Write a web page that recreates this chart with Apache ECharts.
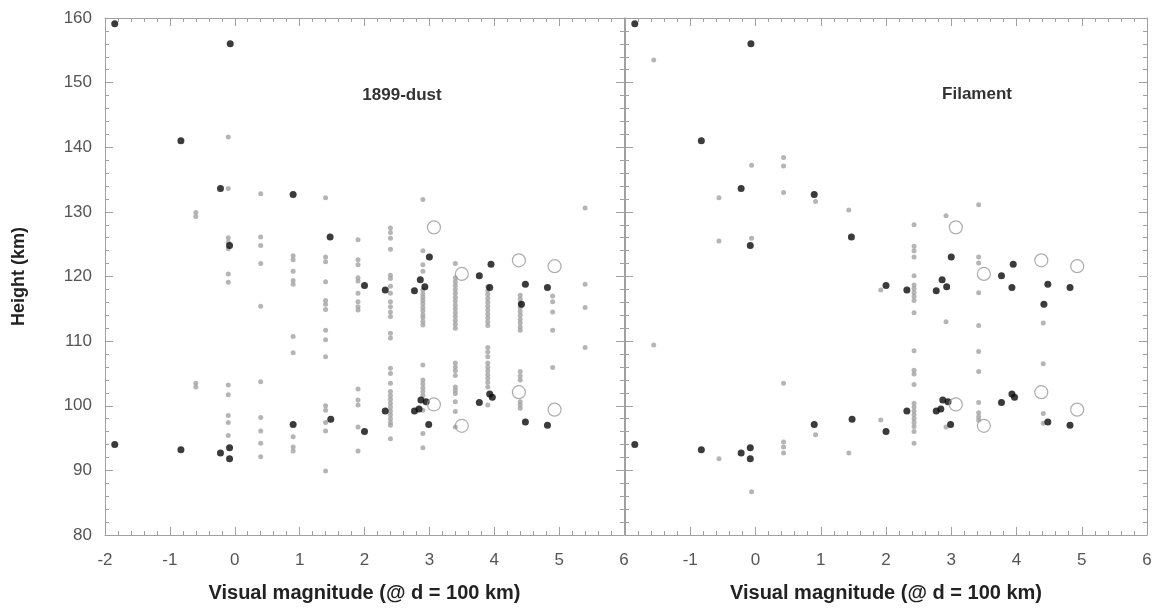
<!DOCTYPE html>
<html><head><meta charset="utf-8">
<script src="https://cdn.jsdelivr.net/npm/echarts@6.0.0/dist/echarts.min.js"></script>
<style>html,body{margin:0;padding:0;background:#fff}#c{width:1158px;height:609px}</style>
</head><body><div id="c"></div>
<script>
// Shared meteor points (black filled) - same in both panels
const blackX = [-1.85,-1.85,-0.83,-0.83,-0.22,-0.22,-0.07,-0.08,-0.08,-0.08,0.9,0.9,1.47,1.48,2.0,2.0,2.32,2.32,2.77,2.86,2.93,3.0,2.77,2.84,2.87,2.95,2.99,3.77,3.95,3.93,3.77,3.93,3.97,4.42,4.48,4.82,4.48,4.82];
const blackY = [159.1,94.0,141.0,93.2,133.6,92.7,156.0,124.8,93.5,91.8,132.7,97.1,126.1,97.9,118.6,96.0,117.9,99.2,117.8,119.5,118.4,123.0,99.2,99.5,100.9,100.6,97.1,120.1,121.9,118.3,100.5,101.8,101.3,115.7,118.8,118.3,97.5,97.0];
// Open circles - same in both panels
const openX = [3.07,3.5,4.38,4.93,3.07,3.5,4.38,4.93];
const openY = [127.6,120.4,122.5,121.6,100.2,96.9,102.1,99.4];
// 1899-dust model (grey), by magnitude column
const dustCols = [-0.6,-0.1,0.4,0.9,1.4,1.9,2.4,2.9,3.4,3.9,4.4,4.9,5.4];
const dustHeights = [
  [129.9,129.3,103.5,102.9],
  [141.6,133.6,126.0,125.3,124.3,120.4,119.1,103.2,101.7,98.5,97.4,95.4],
  [132.8,126.1,124.8,122.0,115.4,103.7,98.2,96.1,94.2,92.1],
  [123.2,122.6,120.8,119.4,118.8,110.7,108.2,95.2,93.6,93.0],
  [132.2,123.0,122.3,119.2,116.3,115.7,114.9,111.7,110.2,107.6,100.0,99.3,97.4,96.1,89.9],
  [125.7,122.6,121.8,119.8,119.3,117.4,116.1,115.3,114.8,102.6,100.9,100.1,96.7,93.0],
  [127.5,126.8,125.9,124.2,120.2,119.7,118.5,117.4,116.1,115.3,114.5,113.8,111.2,110.5,105.8,105.0,103.5,102.2,101.6,101.0,100.4,99.8,99.2,98.6,98.0,97.4,97.0,94.9],
  [131.9,124.0,121.8,120.8,117.9,117.3,116.8,116.3,115.8,115.2,114.7,114.1,113.6,113.0,112.5,106.3,104.0,103.4,102.8,102.2,101.6,99.3,95.7,93.5],
  [122.0,119.8,119.2,118.6,118.0,117.4,116.8,116.2,115.6,115.0,114.4,113.8,113.2,112.6,112.0,106.6,106.0,105.4,104.7,102.9,102.4,101.9,100.6,99.1,96.7],
  [118.4,117.8,117.2,116.6,116.0,115.4,114.8,114.2,113.6,113.0,112.4,109.0,108.3,107.6,106.6,106.0,105.4,104.8,104.2,103.6,102.9,100.1],
  [117.1,116.5,115.9,115.2,114.6,114.0,113.4,112.8,112.2,111.7,105.3,104.6,104.0,100.6,100.1,99.6],
  [117.0,116.1,114.5,111.7,105.9],
  [130.6,118.8,115.2,109.0]
];
// Filament model (grey)
const filCols = [-1.56,-0.56,-0.06,0.43,0.92,1.43,1.92,2.43,2.92,3.42,4.41];
const filHeights = [
  [153.5,109.4],
  [132.2,125.5,91.8],
  [137.2,125.9,86.7],
  [138.4,137.1,133.0,103.5,94.4,93.6,92.7],
  [131.6,95.5],
  [130.3,92.7],
  [117.9,97.8],
  [128.0,124.7,124.0,123.0,120.1,118.7,118.1,117.5,116.9,116.3,114.4,108.5,105.5,104.9,103.3,100.4,99.8,99.2,98.6,98.0,97.4,96.8,96.0,94.2],
  [129.4,113.0,96.7],
  [131.1,123.0,122.1,117.5,112.4,108.4,105.3,100.5,98.9,98.3,97.8],
  [112.8,106.5,98.8,97.3]
];
const panelTitles = ['1899-dust','Filament'];
const xName = 'Visual magnitude (@ d = 100 km)';
const yName = 'Height (km)';

function pairs(xs, ys){ return xs.map((x,i)=>[x,ys[i]]); }
function colPairs(cols, hs){ const out=[]; cols.forEach((c,i)=>hs[i].forEach(h=>out.push([c,h]))); return out; }

const FONT = '"Liberation Sans", Arial, sans-serif';
const axisCol = '#a0a0a0';
function xAx(g, pos, labels, named, showMin){
  return {type:'value', gridIndex:g, position:pos, min:-2, max:6, interval:1,
    axisLine:{onZero:false, lineStyle:{color:axisCol, width:1}},
    axisTick:{inside:true, length:8, lineStyle:{color:axisCol}},
    minorTick:{show:true, splitNumber:5, length:4, lineStyle:{color:axisCol}},
    splitLine:{show:false},
    axisLabel:{show:labels, margin:17, fontSize:17, color:'#555', fontFamily:FONT, showMinLabel:showMin},
    name: named? xName : '', nameLocation:'middle', nameGap:48,
    nameTextStyle:{fontWeight:'bold', fontSize:20, color:'#222', fontFamily:FONT}};
}
function yAx(g, pos, labels, named){
  return {type:'value', gridIndex:g, position:pos, min:80, max:160, interval:10,
    axisLine:{onZero:false, lineStyle:{color:axisCol, width:1}},
    axisTick:{inside:true, length:8, lineStyle:{color:axisCol}},
    minorTick:{show:true, splitNumber:5, length:4, lineStyle:{color:axisCol}},
    splitLine:{show:false},
    axisLabel:{show:labels, margin:13, fontSize:17, color:'#555', fontFamily:FONT},
    name: named? yName : '', nameLocation:'middle', nameGap:77, nameRotate:90,
    nameTextStyle:{fontWeight:'bold', fontSize:18, color:'#222', fontFamily:FONT}};
}

const grey = {symbol:'circle', symbolSize:5, itemStyle:{color:'#a3a3a3'}};
const black = {symbol:'circle', symbolSize:7, itemStyle:{color:'#0a0a0a'}};
const openC = {symbol:'circle', symbolSize:13, itemStyle:{color:'rgba(255,255,255,0)', borderColor:'#999', borderWidth:1.2}};

const chart = echarts.init(document.getElementById('c'), null, {renderer:'canvas'});
const series = [];
[[dustCols,dustHeights],[filCols,filHeights]].forEach((d,p)=>{
  const xi = p*2, yi = p*2;
  series.push(Object.assign({type:'scatter', xAxisIndex:xi, yAxisIndex:yi, data:colPairs(d[0],d[1]), z:2}, grey));
  series.push(Object.assign({type:'scatter', xAxisIndex:xi, yAxisIndex:yi, data:pairs(blackX,blackY), z:3}, black));
  series.push(Object.assign({type:'scatter', xAxisIndex:xi, yAxisIndex:yi, data:pairs(openX,openY), z:4}, openC));
});
chart.setOption({
  animation:false,
  backgroundColor:'#fff',
  grid:[{left:105, top:18, width:519, height:517},{left:625, top:18, width:522, height:517}],
  xAxis:[xAx(0,'bottom',true,true,true), xAx(0,'top',false,false,true), xAx(1,'bottom',true,true,false), xAx(1,'top',false,false,false)],
  yAxis:[yAx(0,'left',true,true), yAx(0,'right',false,false), yAx(1,'left',false,false), yAx(1,'right',false,false)],
  graphic:[
    {type:'text', x:402, y:95, style:{text:panelTitles[0], font:'bold 17px '+FONT, fill:'#333', align:'center', verticalAlign:'middle'}},
    {type:'text', x:977, y:94, style:{text:panelTitles[1], font:'bold 17px '+FONT, fill:'#333', align:'center', verticalAlign:'middle'}}
  ],
  series
});
</script></body></html>
